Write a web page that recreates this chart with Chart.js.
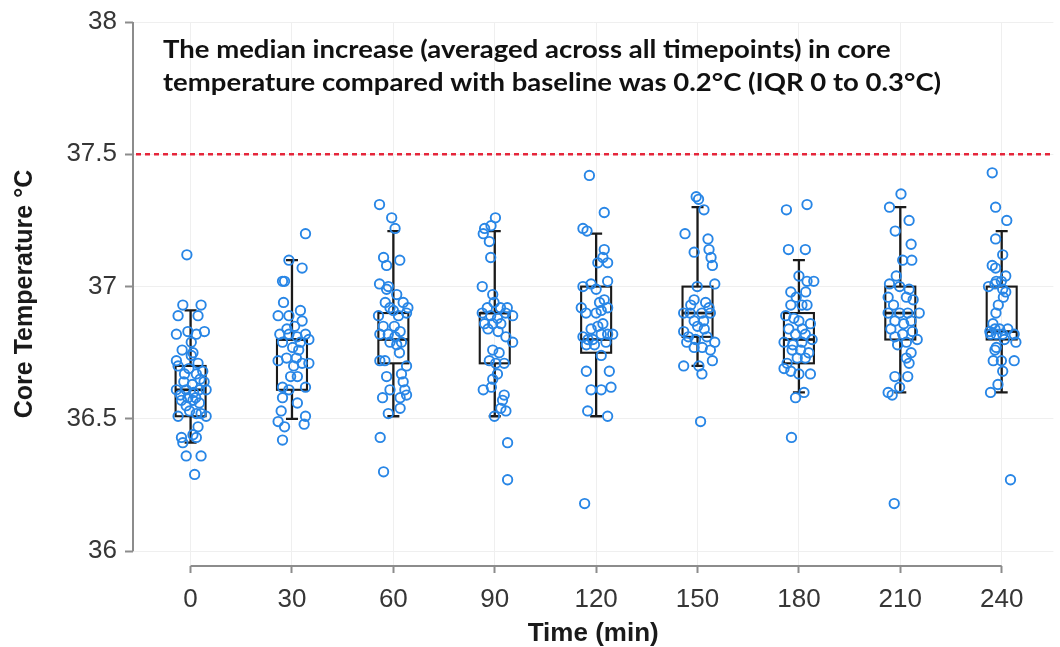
<!DOCTYPE html>
<html>
<head>
<meta charset="utf-8">
<script src="https://cdn.jsdelivr.net/npm/chart.js@4.4.1/dist/chart.umd.min.js"></script>
<style>
  html, body { margin: 0; padding: 0; background: #ffffff; }
  #wrap { width: 1060px; height: 647px; }
</style>
</head>
<body>
<div id="wrap"><canvas id="chart" width="1060" height="647"></canvas></div>
<script>
// Measurement times (minutes) and y-axis tick values (°C)
const timepoints = [0, 30, 60, 90, 120, 150, 180, 210, 240];
const tempTicks = [36, 36.5, 37, 37.5, 38];
const feverThreshold = 37.5;

// Box-plot summaries per timepoint
const whiskerLow  = [36.41, 36.50, 36.51, 36.51, 36.51, 36.70, 36.60, 36.60, 36.60];
const quartile1   = [36.51, 36.61, 36.71, 36.71, 36.75, 36.81, 36.71, 36.80, 36.80];
const medians     = [36.61, 36.80, 36.80, 36.90, 36.80, 36.90, 36.80, 36.90, 36.83];
const quartile3   = [36.70, 36.80, 36.90, 36.90, 37.00, 37.00, 36.90, 37.00, 37.00];
const whiskerHigh = [36.91, 37.10, 37.21, 37.21, 37.20, 37.30, 37.10, 37.30, 37.21];

// Individual readings: [horizontal jitter in minutes, core temperature °C]
const readings0 = [
  [-1.1,37.12],[-2.3,36.93],[3.1,36.93],[-3.7,36.89],[2.2,36.89],[-4.2,36.82],[-0.8,36.83],[4.1,36.83],
  [1.7,36.82],[0.2,36.79],[0.7,36.75],[0.2,36.74],[-2.5,36.76],[-4.2,36.72],[-3.7,36.70],[2.2,36.71],
  [-0.5,36.69],[-1.8,36.67],[1.7,36.67],[3.6,36.68],[2.8,36.65],[-2.0,36.64],[4.0,36.64],[0.5,36.63],
  [-4.2,36.61],[-1.3,36.61],[2.6,36.61],[4.6,36.61],[0.9,36.60],[-3.0,36.59],[-0.8,36.58],[1.5,36.58],
  [-2.7,36.57],[0.7,36.57],[2.6,36.56],[-1.3,36.55],[-0.3,36.53],[1.7,36.52],[3.1,36.52],[-3.7,36.51],
  [4.6,36.51],[2.2,36.47],[0.7,36.44],[-2.7,36.43],[1.7,36.43],[-2.3,36.41],[-1.3,36.36],[3.1,36.36],
  [1.2,36.29]
];
const readings30 = [
  [4.0,37.20],[-0.9,37.10],[3.0,37.07],[-2.8,37.02],[-2.2,37.02],[-2.5,36.94],[2.5,36.91],[-4.1,36.89],
  [-0.9,36.89],[3.0,36.87],[0.8,36.85],[-1.5,36.84],[-3.6,36.82],[-0.9,36.82],[4.0,36.82],[1.5,36.81],
  [5.0,36.80],[-2.8,36.79],[2.5,36.79],[0.2,36.77],[2.0,36.76],[-1.6,36.73],[1.3,36.73],[-4.1,36.72],
  [3.0,36.71],[5.0,36.71],[0.5,36.70],[-0.4,36.66],[1.6,36.66],[-2.8,36.62],[-0.9,36.61],[4.0,36.62],
  [-2.8,36.58],[1.6,36.56],[-3.2,36.53],[4.0,36.51],[-4.1,36.49],[3.6,36.48],[-2.2,36.47],[-2.8,36.42]
];
const readings60 = [
  [-4.1,37.31],[-0.5,37.26],[0.5,37.22],[-2.9,37.11],[1.9,37.10],[-2.0,37.08],[-4.1,37.01],[-1.5,37.00],
  [-2.0,36.99],[1.0,36.97],[2.9,36.94],[-2.4,36.94],[4.3,36.92],[-1.0,36.92],[0.0,36.91],[-4.4,36.89],
  [1.5,36.89],[3.9,36.90],[0.3,36.85],[-3.0,36.85],[2.0,36.83],[-4.0,36.82],[-1.5,36.82],[0.5,36.81],
  [2.4,36.79],[-1.0,36.79],[1.0,36.78],[1.8,36.75],[-4.0,36.72],[-2.5,36.72],[3.9,36.70],[2.4,36.67],
  [-2.0,36.66],[2.9,36.64],[-1.0,36.61],[3.4,36.61],[3.9,36.59],[-3.2,36.58],[2.0,36.58],[2.0,36.54],
  [-1.5,36.52],[-3.9,36.43],[-2.9,36.30]
];
const readings90 = [
  [0.2,37.26],[-1.1,37.23],[-3.0,37.22],[-3.4,37.20],[-1.6,37.17],[-1.2,37.11],[-3.7,37.00],[-0.6,36.97],
  [-0.2,36.94],[-2.2,36.92],[1.7,36.92],[3.7,36.92],[-3.7,36.90],[3.2,36.90],[-1.2,36.89],[5.3,36.89],
  [0.8,36.88],[-3.0,36.86],[-0.6,36.86],[1.8,36.86],[-2.0,36.84],[1.0,36.83],[3.3,36.81],[5.3,36.79],
  [-0.6,36.76],[1.3,36.75],[-1.6,36.72],[0.3,36.71],[2.8,36.71],[0.8,36.67],[-0.6,36.65],[-1.0,36.62],
  [-3.4,36.61],[2.8,36.59],[2.3,36.57],[1.8,36.54],[3.3,36.53],[-0.1,36.51],[3.8,36.41],[3.8,36.27]
];
const readings120 = [
  [-2.0,37.42],[2.4,37.28],[-3.9,37.22],[-2.7,37.21],[2.4,37.14],[2.0,37.11],[3.4,37.09],[0.5,37.09],
  [3.4,37.02],[-1.5,37.01],[-3.9,37.00],[0.0,36.99],[2.4,36.95],[1.0,36.94],[-4.4,36.92],[3.4,36.92],
  [1.5,36.91],[-3.0,36.90],[0.0,36.90],[2.0,36.86],[0.5,36.85],[-1.5,36.84],[1.5,36.82],[3.4,36.82],
  [4.9,36.82],[-3.9,36.81],[-2.4,36.80],[-1.0,36.80],[2.9,36.79],[-2.9,36.78],[-0.5,36.78],[1.5,36.74],
  [-2.9,36.68],[3.9,36.68],[4.4,36.62],[-1.5,36.61],[1.5,36.61],[-2.5,36.53],[3.4,36.51],[-3.4,36.18]
];
const readings150 = [
  [-0.4,37.34],[0.3,37.33],[1.9,37.29],[-3.7,37.20],[3.1,37.18],[3.4,37.14],[-1.0,37.13],[4.0,37.11],
  [4.4,37.08],[5.1,37.01],[-0.1,37.00],[-1.0,36.95],[2.4,36.94],[-2.0,36.93],[3.4,36.92],[-4.1,36.90],
  [-2.2,36.90],[1.3,36.90],[3.8,36.90],[-1.0,36.87],[1.8,36.87],[0.0,36.85],[2.0,36.84],[-4.1,36.83],
  [-2.7,36.81],[2.8,36.81],[-0.6,36.80],[5.1,36.79],[-3.2,36.79],[-1.0,36.77],[1.4,36.77],[3.8,36.76],
  [4.4,36.72],[-4.1,36.70],[0.4,36.70],[1.3,36.67],[0.9,36.49]
];
const readings180 = [
  [2.4,37.31],[-3.7,37.29],[-3.1,37.14],[1.9,37.14],[0.0,37.04],[2.4,37.02],[4.4,37.02],[-2.4,36.98],
  [2.0,36.98],[-0.8,36.96],[-2.4,36.93],[0.9,36.93],[2.4,36.93],[-3.9,36.89],[-1.5,36.88],[0.0,36.87],
  [3.4,36.86],[-3.0,36.84],[1.0,36.84],[-1.0,36.82],[1.9,36.82],[3.9,36.80],[-4.4,36.79],[0.9,36.79],
  [-1.8,36.78],[-2.0,36.76],[0.5,36.76],[2.9,36.75],[-0.5,36.73],[1.9,36.73],[-3.5,36.71],[-4.4,36.69],
  [-2.4,36.68],[0.0,36.67],[3.4,36.67],[1.5,36.60],[-1.0,36.58],[-2.2,36.43]
];
const readings210 = [
  [0.2,37.35],[-3.2,37.30],[2.6,37.25],[-1.5,37.21],[3.2,37.16],[0.7,37.10],[3.4,37.10],[-1.2,37.04],
  [-3.2,37.01],[-0.2,37.00],[2.6,36.99],[-3.6,36.96],[1.8,36.96],[3.8,36.95],[-2.0,36.93],[-3.6,36.90],
  [-0.2,36.90],[2.2,36.90],[5.6,36.90],[-1.6,36.87],[3.2,36.87],[1.0,36.86],[-2.8,36.84],[3.6,36.83],
  [0.7,36.82],[-1.6,36.81],[5.0,36.80],[1.8,36.79],[-0.8,36.78],[3.2,36.75],[1.8,36.73],[2.6,36.71],
  [-1.6,36.66],[2.2,36.66],[-0.2,36.62],[-3.6,36.60],[-2.4,36.59],[-1.8,36.18]
];
const readings240 = [
  [-2.8,37.43],[-1.8,37.30],[1.5,37.25],[-1.8,37.18],[0.3,37.12],[-2.8,37.08],[-1.8,37.07],[1.2,37.04],
  [-1.6,37.02],[-0.1,37.02],[-2.0,37.01],[-3.9,37.00],[0.3,36.99],[1.2,36.98],[0.5,36.96],[-1.0,36.93],
  [-1.7,36.90],[-2.6,36.86],[-2.0,36.84],[-0.6,36.84],[1.8,36.84],[-3.5,36.83],[3.7,36.82],[-1.6,36.82],
  [0.3,36.82],[-3.3,36.82],[0.8,36.80],[4.2,36.79],[-1.6,36.77],[-2.0,36.76],[-2.5,36.72],[-0.1,36.72],
  [3.7,36.72],[0.3,36.68],[-1.1,36.63],[-3.3,36.60],[2.6,36.27]
];

const readingsByTime = [readings0, readings30, readings60, readings90, readings120,
                        readings150, readings180, readings210, readings240];

const annotationLines = [
  'The median increase (averaged across all timepoints) in core',
  'temperature compared with baseline was 0.2°C (IQR 0 to 0.3°C)'
];

// Scatter points: timepoint plus jitter on x, temperature on y
const scatterPoints = [];
readingsByTime.forEach((list, i) => {
  list.forEach(([jitter, temp]) => scatterPoints.push({ x: timepoints[i] + jitter, y: temp }));
});

const AXIS_GREY = '#8c8c8c';
const TEXT_GREY = '#363636';
const SANS = 'Arial, "Liberation Sans", sans-serif';

// Separate R-style axis lines, the threshold line and the box plots
const boxPlotPlugin = {
  id: 'boxPlots',
  beforeDatasetsDraw(chart) {
    const { ctx, chartArea, scales: { x, y } } = chart;
    ctx.save();

    // y axis line (36 to 38) and x axis line (0 to 240)
    ctx.strokeStyle = AXIS_GREY;
    ctx.lineWidth = 2;
    ctx.beginPath();
    ctx.moveTo(chartArea.left, y.getPixelForValue(tempTicks[0]));
    ctx.lineTo(chartArea.left, y.getPixelForValue(tempTicks[tempTicks.length - 1]));
    ctx.moveTo(x.getPixelForValue(timepoints[0]), chartArea.bottom);
    ctx.lineTo(x.getPixelForValue(timepoints[timepoints.length - 1]), chartArea.bottom);
    ctx.stroke();

    // dotted threshold line
    const yT = y.getPixelForValue(feverThreshold);
    ctx.strokeStyle = '#e5263b';
    ctx.lineWidth = 2.5;
    ctx.setLineDash([5, 4]);
    ctx.beginPath();
    ctx.moveTo(chartArea.left + 3, yT);
    ctx.lineTo(chartArea.right, yT);
    ctx.stroke();
    ctx.setLineDash([]);

    // boxes and whiskers
    const half = 15, cap = 6;
    ctx.strokeStyle = '#1a1a1a';
    timepoints.forEach((t, i) => {
      const cx = x.getPixelForValue(t);
      const yLo = y.getPixelForValue(whiskerLow[i]);
      const yQ1 = y.getPixelForValue(quartile1[i]);
      const yMed = y.getPixelForValue(medians[i]);
      const yQ3 = y.getPixelForValue(quartile3[i]);
      const yHi = y.getPixelForValue(whiskerHigh[i]);
      ctx.lineWidth = 2.3;
      ctx.beginPath();
      ctx.moveTo(cx, yHi); ctx.lineTo(cx, yQ3);
      ctx.moveTo(cx, yQ1); ctx.lineTo(cx, yLo);
      ctx.moveTo(cx - cap, yHi); ctx.lineTo(cx + cap, yHi);
      ctx.moveTo(cx - cap, yLo); ctx.lineTo(cx + cap, yLo);
      ctx.stroke();
      ctx.lineWidth = 2.1;
      ctx.strokeRect(cx - half, yQ3, half * 2, yQ1 - yQ3);
      ctx.lineWidth = 2.7;
      ctx.beginPath();
      ctx.moveTo(cx - half, yMed); ctx.lineTo(cx + half, yMed);
      ctx.stroke();
    });
    ctx.restore();
  },
  afterDraw(chart) {
    const { ctx, chartArea } = chart;
    ctx.save();
    ctx.fillStyle = '#111111';
    ctx.font = 'bold 25px Lato, "Open Sans", sans-serif';
    ctx.textBaseline = 'middle';
    ctx.textAlign = 'left';
    // slightly widened lettering for the note
    ctx.translate(chartArea.left + 30, 0);
    ctx.scale(1.1, 1);
    annotationLines.forEach((line, k) => {
      ctx.fillText(line, 0, chartArea.top + 28 + k * 33);
    });
    ctx.restore();
  }
};

new Chart(document.getElementById('chart'), {
  type: 'scatter',
  data: {
    datasets: [{
      data: scatterPoints,
      pointStyle: 'circle',
      pointRadius: 4.7,
      pointHoverRadius: 4.7,
      borderWidth: 1.9,
      borderColor: '#2886e6',
      backgroundColor: 'rgba(0,0,0,0)'
    }]
  },
  options: {
    responsive: false,
    animation: false,
    devicePixelRatio: 1,
    layout: { padding: { top: 22, right: 0, bottom: 0, left: 0 } },
    plugins: { legend: { display: false }, tooltip: { enabled: false } },
    scales: {
      x: {
        type: 'linear',
        min: -17.04,
        max: 255.3,
        afterBuildTicks(scale) { scale.ticks = timepoints.map(v => ({ value: v })); },
        afterFit(scale) { scale.height = 81; scale.paddingLeft = 0; scale.paddingRight = 0; },
        border: { display: false },
        grid: { color: '#efefef', lineWidth: 1, drawTicks: true, tickLength: 7, tickColor: AXIS_GREY, tickWidth: 2 },
        ticks: {
          autoSkip: false, maxRotation: 0, padding: 11, color: TEXT_GREY,
          font: { family: SANS, size: 26 },
          callback: v => String(v)
        },
        title: {
          display: true, text: 'Time (min)', color: '#1a1a1a',
          font: { family: SANS, size: 26, weight: 'bold', lineHeight: 1.05 },
          padding: { top: 0, bottom: 0 }
        }
      },
      y: {
        type: 'linear',
        min: 35.944,
        max: 38,
        afterBuildTicks(scale) { scale.ticks = tempTicks.map(v => ({ value: v })); },
        afterFit(scale) { scale.width = 133; scale.paddingTop = 0; scale.paddingBottom = 0; },
        border: { display: false },
        grid: { color: '#efefef', lineWidth: 1, drawTicks: true, tickLength: 8, tickColor: AXIS_GREY, tickWidth: 2 },
        ticks: {
          padding: 8, color: TEXT_GREY,
          font: { family: SANS, size: 26 },
          callback: v => String(v)
        },
        title: {
          display: true, text: 'Core Temperature °C', color: '#1a1a1a',
          font: { family: SANS, size: 25, weight: 'bold', lineHeight: 1.1 },
          padding: { top: 11, bottom: 0 }
        }
      }
    }
  },
  plugins: [boxPlotPlugin]
});
</script>
</body>
</html>
